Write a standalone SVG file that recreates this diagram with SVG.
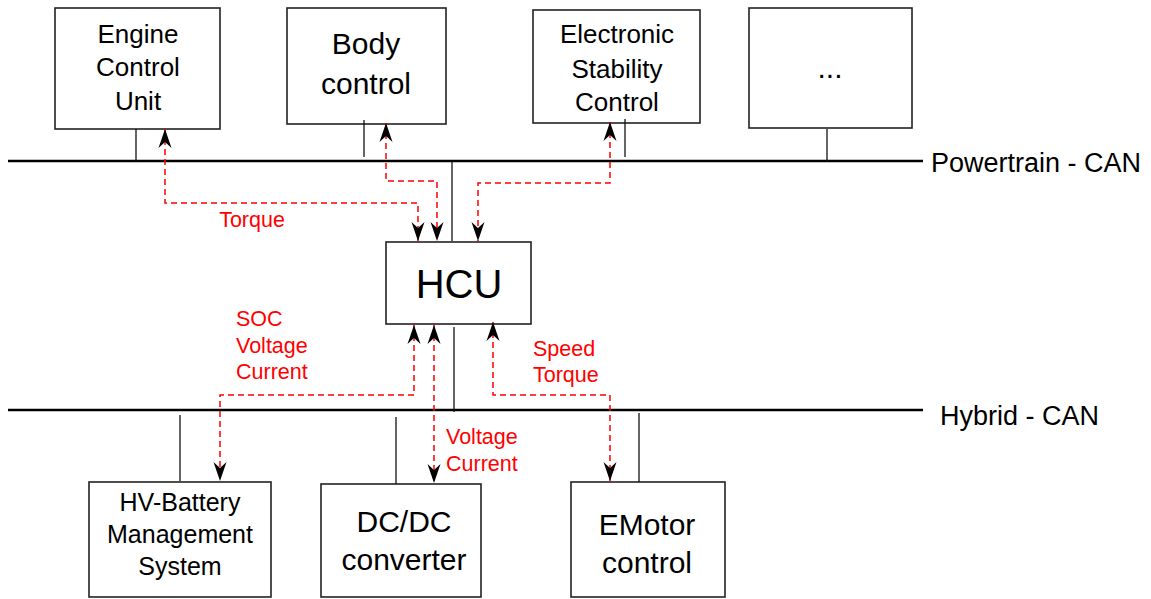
<svg xmlns="http://www.w3.org/2000/svg" width="1151" height="599" viewBox="0 0 1151 599">
<style>
.box{fill:#fff;stroke:#222;stroke-width:1.6}
.t{font-family:"Liberation Sans",Arial,sans-serif;fill:#000;text-anchor:middle}
.bus{stroke:#000;stroke-width:2.5;fill:none}
.stub{stroke:#111;stroke-width:1.3;fill:none}
.sig{stroke:#ff0000;stroke-width:1.5;stroke-dasharray:6 4;fill:none;marker-start:url(#ah);marker-end:url(#ah)}
.lbl{font-family:"Liberation Sans",Arial,sans-serif;fill:#ff0000;font-size:21.5px}
</style>
<defs>
<marker id="ah" viewBox="0 -7 20 14" refX="19" refY="0" markerWidth="20" markerHeight="14" markerUnits="userSpaceOnUse" orient="auto-start-reverse">
<path d="M0,-6.5 L19,0 L0,6.5 L6,0 Z" fill="#000"/>
</marker>
</defs>
<rect width="1151" height="599" fill="#fff"/>

<g id="buses">
<line class="bus" x1="8" y1="161" x2="923" y2="161"/>
<text class="t" x="931" y="172" font-size="27" style="text-anchor:start">Powertrain - CAN</text>
<line class="bus" x1="8" y1="410" x2="923" y2="410"/>
<text class="t" x="940" y="425" font-size="27" style="text-anchor:start">Hybrid - CAN</text>
</g>

<g id="node-ecu">
<rect class="box" x="55" y="8" width="165" height="121"/>
<text class="t" font-size="26"><tspan x="138" y="43">Engine</tspan><tspan x="138" y="76">Control</tspan><tspan x="138" y="110">Unit</tspan></text>
</g>
<g id="node-body">
<rect class="box" x="287" y="8" width="159" height="116"/>
<text class="t" font-size="30"><tspan x="366" y="54">Body</tspan><tspan x="366" y="94">control</tspan></text>
</g>
<g id="node-esc">
<rect class="box" x="533" y="10" width="167" height="113"/>
<text class="t" font-size="26"><tspan x="617" y="43">Electronic</tspan><tspan x="617" y="78">Stability</tspan><tspan x="617" y="111">Control</tspan></text>
</g>
<g id="node-more">
<rect class="box" x="749" y="8" width="163" height="120"/>
<text class="t" font-size="30" x="830" y="78">...</text>
</g>
<g id="node-hcu">
<rect class="box" x="386" y="242" width="145" height="82"/>
<text class="t" font-size="40" x="459" y="298">HCU</text>
</g>
<g id="node-bms">
<rect class="box" x="89" y="482" width="182" height="115"/>
<text class="t" font-size="25"><tspan x="180" y="511">HV-Battery</tspan><tspan x="180" y="543">Management</tspan><tspan x="180" y="575">System</tspan></text>
</g>
<g id="node-dcdc">
<rect class="box" x="321" y="484" width="160" height="113"/>
<text class="t" font-size="30"><tspan x="404" y="532">DC/DC</tspan><tspan x="404" y="570">converter</tspan></text>
</g>
<g id="node-emotor">
<rect class="box" x="571" y="482" width="154" height="115"/>
<text class="t" font-size="30"><tspan x="647" y="535">EMotor</tspan><tspan x="647" y="573">control</tspan></text>
</g>

<g id="connectors">
<line class="stub" x1="136" y1="129" x2="136" y2="161"/>
<line class="stub" x1="364" y1="120" x2="364" y2="157"/>
<line class="stub" x1="625" y1="119" x2="625" y2="157"/>
<line class="stub" x1="827" y1="129" x2="827" y2="161"/>
<line class="stub" x1="452" y1="161" x2="452" y2="241"/>
<line class="stub" x1="454" y1="327" x2="454" y2="412"/>
<line class="stub" x1="180" y1="415" x2="180" y2="481"/>
<line class="stub" x1="396" y1="417" x2="396" y2="484"/>
<line class="stub" x1="639" y1="413" x2="639" y2="482"/>

<path class="sig" d="M165,129 V203 H418 V241"/>
<path class="sig" d="M386,123 V181 H437 V241"/>
<path class="sig" d="M610,122 V183 H478 V241"/>
<path class="sig" d="M414,325 V395 H220 V481"/>
<path class="sig" d="M434,325 V483"/>
<path class="sig" d="M493,322 V395 H610 V481"/>

<text class="lbl" x="252" y="227" text-anchor="middle">Torque</text>
<text class="lbl"><tspan x="236" y="326">SOC</tspan><tspan x="236" y="353">Voltage</tspan><tspan x="236" y="379">Current</tspan></text>
<text class="lbl"><tspan x="533" y="356">Speed</tspan><tspan x="533" y="382">Torque</tspan></text>
<text class="lbl"><tspan x="446" y="444">Voltage</tspan><tspan x="446" y="471">Current</tspan></text>
</g>
</svg>
